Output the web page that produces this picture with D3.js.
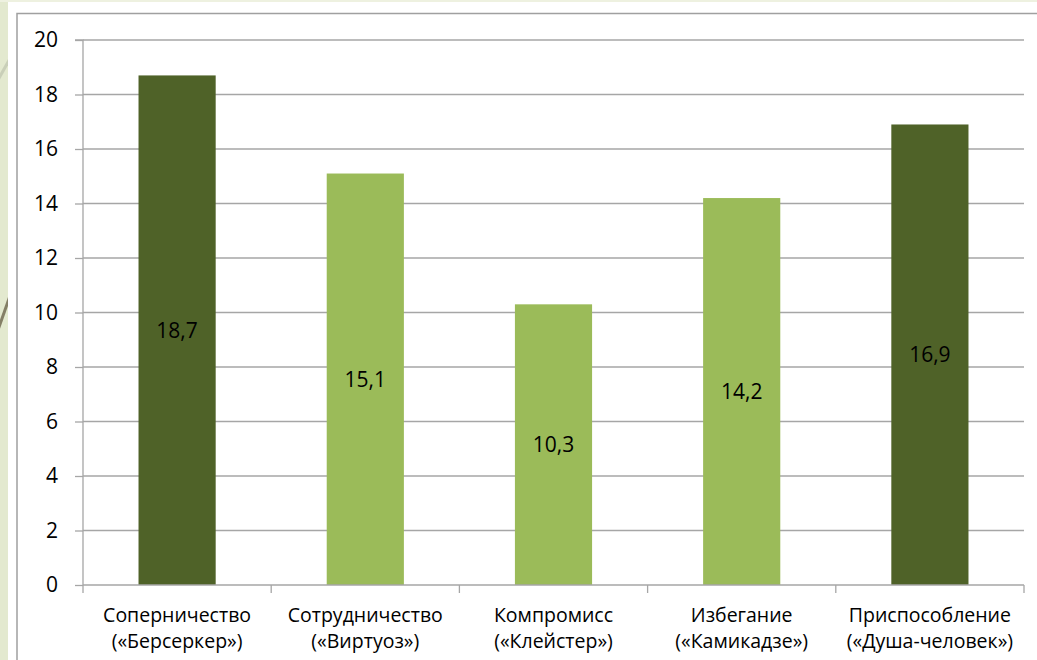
<!DOCTYPE html>
<html><head><meta charset="utf-8">
<script src="https://cdn.jsdelivr.net/npm/d3@7"></script>
<style>html,body{margin:0;padding:0;background:#fff;}svg{display:block;}</style>
</head><body>
<svg id="c" width="1037" height="660"></svg>
<script>
const categories = ["Соперничество\n(«Берсеркер»)", "Сотрудничество\n(«Виртуоз»)", "Компромисс\n(«Клейстер»)", "Избегание\n(«Камикадзе»)", "Приспособление\n(«Душа-человек»)"];
const values = [18.7, 15.1, 10.3, 14.2, 16.9];
const valueLabels = ["18,7", "15,1", "10,3", "14,2", "16,9"];
const highlight = [true, false, false, false, true];
const yTicks = [0, 2, 4, 6, 8, 10, 12, 14, 16, 18, 20];

const svg = d3.select("#c");
const W = 1037, H = 660;
const font = "'Open Sans', sans-serif";

// background
svg.append("rect").attr("width", W).attr("height", H).attr("fill", "#ffffff");
svg.append("rect").attr("x", 0).attr("y", 0).attr("width", 8).attr("height", H).attr("fill", "#e3e9cf");
svg.append("rect").attr("x", 0).attr("y", 0).attr("width", W).attr("height", 2).attr("fill", "#eef1e0");
const clip = svg.append("clipPath").attr("id", "strip");
clip.append("rect").attr("x", 0).attr("y", 0).attr("width", 8).attr("height", H);
const deco = svg.append("g").attr("clip-path", "url(#strip)");
deco.append("line").attr("x1", -2).attr("y1", 80).attr("x2", 12).attr("y2", 55).attr("stroke", "#c9cfb8").attr("stroke-width", 3);
deco.append("line").attr("x1", -2).attr("y1", 330).attr("x2", 12).attr("y2", 290).attr("stroke", "#847f66").attr("stroke-width", 3);

// chart border
svg.append("rect").attr("x", 17).attr("y", 13.5).attr("width", W).attr("height", H)
  .attr("fill", "#ffffff").attr("stroke", "#a0a0a0").attr("stroke-width", 1.5);

const m = {left: 83, right: 1024, top: 40, bottom: 585};
const x = d3.scaleBand().domain(d3.range(categories.length)).range([m.left, m.right]).paddingInner(0.59).paddingOuter(0.295);
const xb = d3.scaleBand().domain(d3.range(categories.length)).range([m.left, m.right]);
const y = d3.scaleLinear().domain([0, 20]).range([m.bottom, m.top]);

// gridlines
svg.append("g").selectAll("line").data(yTicks.filter(d => d > 0)).join("line")
  .attr("x1", m.left).attr("x2", m.right)
  .attr("y1", d => y(d)).attr("y2", d => y(d))
  .attr("stroke", "#a6a6a6").attr("stroke-width", 1.3);

// bars
svg.append("g").selectAll("rect").data(values).join("rect")
  .attr("x", (d, i) => x(i)).attr("width", x.bandwidth())
  .attr("y", d => y(d)).attr("height", d => y(0) - y(d))
  .attr("fill", (d, i) => highlight[i] ? "#4f6228" : "#9bbb59");

// y axis
const yAxis = svg.append("g").attr("transform", `translate(${m.left},0)`)
  .call(d3.axisLeft(y).tickValues(yTicks).tickSize(8).tickPadding(17).tickFormat(d3.format("d")));
yAxis.select(".domain").attr("stroke", "#a6a6a6").attr("stroke-width", 1.3).attr("d", `M-8,${m.top}H0V${m.bottom}`);
yAxis.selectAll(".tick line").attr("stroke", "#a6a6a6").attr("stroke-width", 1.3);
yAxis.selectAll(".tick text").attr("font-family", font).attr("font-size", 21).attr("fill", "#000");

// x axis
const xAxis = svg.append("g").attr("transform", `translate(0,${m.bottom})`);
xAxis.append("line").attr("x1", m.left).attr("x2", m.right).attr("y1", 0).attr("y2", 0).attr("stroke", "#a6a6a6").attr("stroke-width", 1.3);
const bounds = xb.domain().map(i => xb(i)).concat([m.right]);
xAxis.selectAll("line.t").data(bounds).join("line").attr("class", "t")
  .attr("x1", d => d).attr("x2", d => d).attr("y1", 0).attr("y2", 8)
  .attr("stroke", "#a6a6a6").attr("stroke-width", 1.3);
const xl = xAxis.selectAll("text.c").data(categories).join("text").attr("class", "c")
  .attr("text-anchor", "middle").attr("font-family", font).attr("font-size", 19.5).attr("fill", "#000");
xl.each(function(d, i) {
  const t = d3.select(this);
  d.split("\n").forEach((s, k) => {
    t.append("tspan").attr("x", xb(i) + xb.bandwidth() / 2).attr("y", 37 + k * 26).text(s);
  });
});

// value labels
svg.append("g").selectAll("text").data(values).join("text")
  .attr("x", (d, i) => x(i) + x.bandwidth() / 2)
  .attr("y", d => (y(d) + y(0)) / 2)
  .attr("dy", "0.35em").attr("text-anchor", "middle")
  .attr("font-family", font).attr("font-size", 21).attr("fill", "#000")
  .text((d, i) => valueLabels[i]);
</script>
</body></html>
